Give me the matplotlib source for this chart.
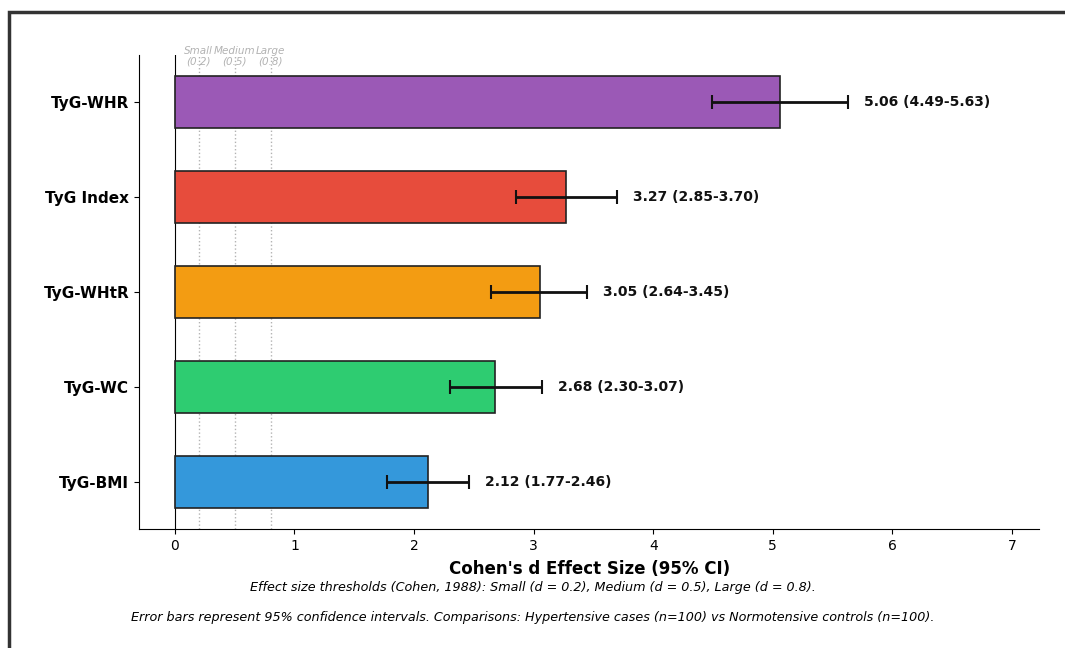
import numpy as np
import matplotlib.pyplot as plt
from matplotlib.patches import Rectangle

# Effect sizes (Cohen's d) with 95% CI, bottom to top
labels = ["TyG-BMI", "TyG-WC", "TyG-WHtR", "TyG Index", "TyG-WHR"]
d_values = np.array([2.12, 2.68, 3.05, 3.27, 5.06])
ci_low = np.array([1.77, 2.30, 2.64, 2.85, 4.49])
ci_high = np.array([2.46, 3.07, 3.45, 3.70, 5.63])
colors = ["#3498db", "#2ecc71", "#f39c12", "#e74c3c", "#9b59b6"]

thresholds = [0.2, 0.5, 0.8]
threshold_names = ["Small", "Medium", "Large"]

fig = plt.figure(figsize=(10.65, 6.48), dpi=100)
ax = fig.add_axes([0.1305, 0.1836, 0.8455, 0.7315])

y = np.arange(len(labels))
err = np.vstack([d_values - ci_low, ci_high - d_values])

ax.barh(y, d_values, height=0.55, color=colors, edgecolor="#222222",
        linewidth=1.2, zorder=2)
ax.errorbar(d_values, y, xerr=err, fmt="none", ecolor="#111111",
            elinewidth=2, capsize=5, capthick=1.5, zorder=3)

for yi, d, lo, hi in zip(y, d_values, ci_low, ci_high):
    ax.text(hi + 0.13, yi, f"{d:.2f} ({lo:.2f}-{hi:.2f})", va="center",
            ha="left", fontsize=10, fontweight="bold", color="#111111")

ax.axvline(0, color="black", linewidth=0.8, zorder=1)
for t, name in zip(thresholds, threshold_names):
    ax.axvline(t, color="gray", linestyle=":", linewidth=1, alpha=0.6, zorder=1)
    ax.text(t, 4.38, f"{name}\n({t})", ha="center", va="bottom", fontsize=7.5,
            color="gray", alpha=0.6, style="italic", linespacing=1.1)

ax.set_yticks(y)
ax.set_yticklabels(labels, fontsize=11, fontweight="bold")
ax.set_xlim(-0.3, 7.23)
ax.set_ylim(-0.5, 4.5)
ax.set_xticks(range(0, 8))
ax.tick_params(axis="x", labelsize=10)
ax.set_xlabel("Cohen's d Effect Size (95% CI)", fontsize=12, fontweight="bold",
              labelpad=5)
ax.spines["top"].set_visible(False)
ax.spines["right"].set_visible(False)

fig.text(0.5, 0.088, "Effect size thresholds (Cohen, 1988): Small (d = 0.2), "
         "Medium (d = 0.5), Large (d = 0.8).", ha="center", fontsize=9.2,
         style="italic")
fig.text(0.5, 0.042, "Error bars represent 95% confidence intervals. Comparisons: "
         "Hypertensive cases (n=100) vs Normotensive controls (n=100).",
         ha="center", fontsize=9.2, style="italic")

# frame around the figure (cropped on right and bottom)
fig.patches.append(Rectangle((8.5 / 1065, -0.1), 1.2, (636 / 648) + 0.1,
                             transform=fig.transFigure, fill=False,
                             edgecolor="#333333", linewidth=2.5))

fig.savefig("out.png", dpi=100)
